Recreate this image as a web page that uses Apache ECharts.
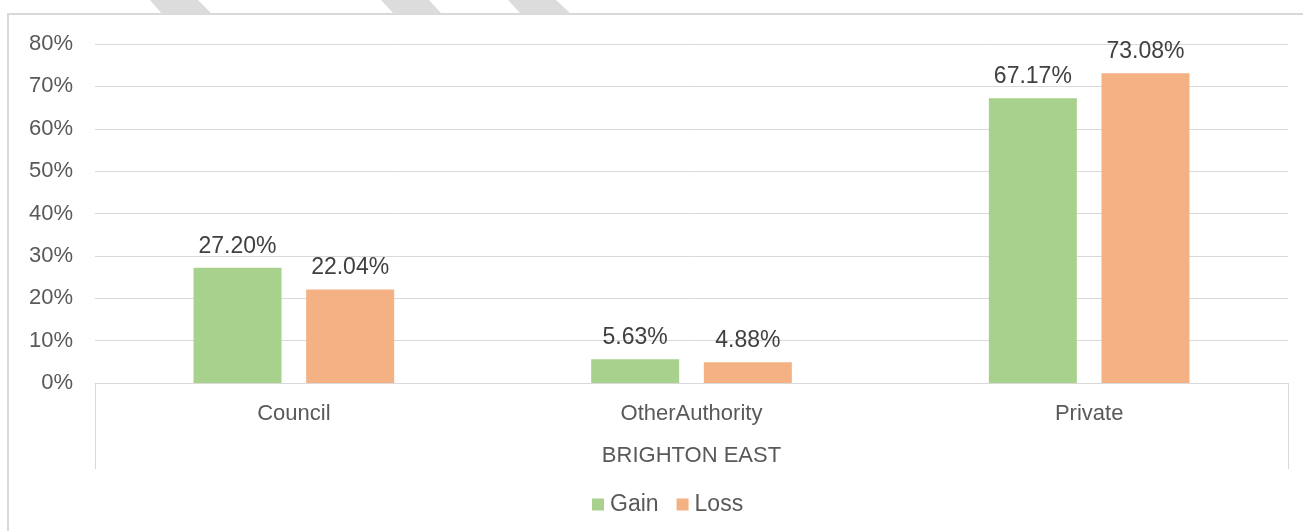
<!DOCTYPE html>
<html>
<head>
<meta charset="utf-8">
<script src="https://cdn.jsdelivr.net/npm/echarts@6/dist/echarts.min.js"></script>
<style>
  html, body { margin: 0; padding: 0; background: #fff; }
  #chart { width: 1303px; height: 531px; }
</style>
</head>
<body>
<div id="chart"></div>
<script>
const categories = ['Council', 'OtherAuthority', 'Private'];
const groupLabel = ['BRIGHTON EAST'];
const gainValues = [27.20, 5.63, 67.17];
const lossValues = [22.04, 4.88, 73.08];
const seriesNames = ['Gain', 'Loss'];

const font = 'Liberation Sans, Arial, sans-serif';
const gridColor = '#d9d9d9';

const chart = echarts.init(document.getElementById('chart'));

const labelOpt = {
  show: true,
  position: 'top',
  distance: 10,
  color: '#404040',
  fontFamily: font,
  fontSize: 23,
  formatter: p => p.value.toFixed(2) + '%'
};

const option = {
  animation: false,
  textStyle: { fontFamily: font },
  grid: { left: 95, right: 15, top: 44, bottom: 148 },
  legend: {
    data: seriesNames,
    bottom: 10,
    left: 587,
    icon: 'rect',
    itemWidth: 12,
    itemHeight: 12,
    itemGap: 18,
    textStyle: { color: '#595959', fontSize: 23, fontFamily: font, padding: [0, 0, 0, 1] }
  },
  xAxis: [
    {
      type: 'category',
      data: categories,
      axisLine: { lineStyle: { color: gridColor, width: 1 } },
      axisTick: { show: false },
      axisLabel: { color: '#595959', fontSize: 22, fontFamily: font, margin: 20 }
    },
    {
      type: 'category',
      data: groupLabel,
      position: 'bottom',
      axisLine: { show: false },
      axisTick: { show: true, length: 86, lineStyle: { color: gridColor } },
      axisLabel: { color: '#595959', fontSize: 22, fontFamily: font, margin: 62 }
    }
  ],
  yAxis: {
    type: 'value',
    min: 0,
    max: 80,
    interval: 10,
    axisLine: { show: false },
    axisTick: { show: false },
    splitLine: { lineStyle: { color: gridColor, width: 1 } },
    axisLabel: { color: '#595959', fontSize: 22, fontFamily: font, margin: 22, formatter: '{value}%' }
  },
  series: [
    {
      name: seriesNames[0],
      type: 'bar',
      data: gainValues,
      barWidth: 88,
      barGap: '28%',
      itemStyle: { color: '#a9d18e' },
      label: labelOpt
    },
    {
      name: seriesNames[1],
      type: 'bar',
      data: lossValues,
      barWidth: 88,
      itemStyle: { color: '#f4b183' },
      label: labelOpt
    }
  ],
  graphic: [
    {
      type: 'rect',
      shape: { x: 8, y: 14, width: 1320, height: 540 },
      style: { fill: 'none', stroke: '#d9d9d9', lineWidth: 2 },
      silent: true
    },
    {
      type: 'polygon',
      shape: { points: [[150, 0], [198, 0], [212, 14], [162, 14]] },
      style: { fill: '#dcdcdc' },
      silent: true
    },
    {
      type: 'polygon',
      shape: { points: [[381, 0], [429, 0], [442, 14], [394, 14]] },
      style: { fill: '#dcdcdc' },
      silent: true
    },
    {
      type: 'polygon',
      shape: { points: [[508, 0], [556, 0], [571, 14], [521, 14]] },
      style: { fill: '#dcdcdc' },
      silent: true
    }
  ]
};

chart.setOption(option);
</script>
</body>
</html>
